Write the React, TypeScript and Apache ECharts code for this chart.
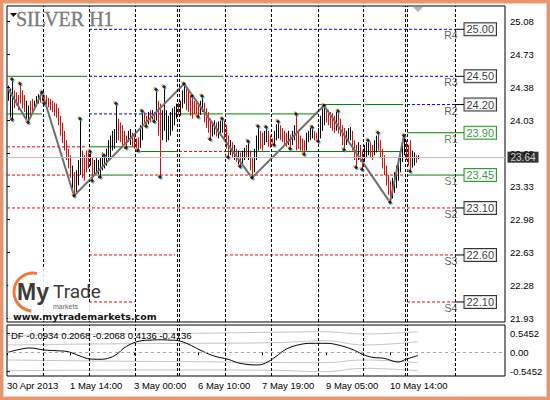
import React, { useEffect, useRef } from "react";
import * as echarts from "echarts";

// ---------- DATA ----------
const barHigh = [
  24.40, 24.37, 24.47, 24.35, 24.33, 24.30, 24.42, 24.35, 24.30, 24.24,
  24.19, 24.24, 24.26, 24.24, 24.29, 24.31, 24.33, 24.33, 24.30, 24.30,
  24.27, 24.26, 24.24, 24.22, 24.21, 24.16, 24.08, 24.01, 23.92, 23.82,
  23.73, 23.66, 23.55, 23.48, 23.50, 23.61, 24.05, 23.71, 23.66, 23.71,
  23.69, 23.70, 23.63, 23.61, 23.63, 23.61, 23.63, 23.69, 23.66, 23.73,
  23.82, 23.87, 23.92, 23.94, 24.21, 24.05, 24.01, 23.98, 23.92, 23.87,
  23.92, 23.94, 23.90, 23.87, 23.84, 23.85, 23.98, 24.13, 24.12, 24.08,
  24.12, 24.14, 24.14, 24.12, 24.36, 24.24, 24.21, 24.14, 24.39, 24.14,
  24.08, 24.12, 24.16, 24.18, 24.21, 24.22, 24.24, 24.35, 24.42, 24.37,
  24.35, 24.32, 24.29, 24.24, 24.22, 24.20, 24.24, 24.29, 24.22, 24.16,
  24.12, 24.05, 24.01, 24.03, 24.01, 24.02, 24.03, 24.05, 24.03, 23.98,
  23.87, 23.82, 23.80, 23.77, 23.73, 23.71, 23.69, 23.71, 23.74, 23.77,
  23.81, 23.71, 23.63, 23.73, 23.87, 23.97, 23.92, 23.90, 23.92, 23.96,
  23.92, 23.87, 23.84, 23.92, 23.99, 24.02, 23.98, 23.95, 23.92, 23.90,
  23.92, 23.88, 23.92, 23.98, 24.10, 23.92, 23.87, 23.84, 23.82, 23.90,
  23.92, 23.95, 23.96, 23.92, 23.90, 23.95, 24.08, 24.16, 24.19, 24.16,
  24.14, 24.12, 24.11, 24.08, 24.12, 24.13, 24.05, 23.98, 23.95, 23.92,
  23.95, 23.96, 23.92, 23.82, 23.77, 23.80, 23.77, 23.71, 23.77, 23.80,
  23.82, 23.80, 23.77, 23.82, 23.87, 23.90, 23.82, 23.73, 23.66, 23.55,
  23.45, 23.39, 23.42, 23.48, 23.55, 23.63, 23.71, 23.80, 23.87, 23.82,
  23.77, 23.82, 23.71, 23.69, 23.66, 23.66,
];
const barLow = [
  24.24, 24.05, 24.04, 24.16, 24.19, 24.14, 24.21, 24.16, 24.12, 24.05,
  24.01, 24.08, 24.10, 24.14, 24.18, 24.21, 24.22, 24.24, 24.21, 24.19,
  24.17, 24.14, 24.12, 24.08, 24.06, 23.98, 23.87, 23.79, 23.71, 23.61,
  23.52, 23.42, 23.31, 23.23, 23.27, 23.34, 23.45, 23.42, 23.39, 23.48,
  23.52, 23.55, 23.39, 23.44, 23.46, 23.42, 23.43, 23.50, 23.52, 23.55,
  23.61, 23.63, 23.71, 23.73, 23.79, 23.82, 23.80, 23.77, 23.73, 23.74,
  23.80, 23.77, 23.75, 23.73, 23.71, 23.71, 23.74, 23.82, 23.98, 23.97,
  23.99, 24.01, 24.03, 24.02, 24.03, 23.87, 23.43, 23.82, 23.92, 23.80,
  23.82, 23.87, 23.92, 23.98, 24.05, 24.09, 24.08, 24.16, 24.21, 24.14,
  24.12, 24.08, 24.05, 24.10, 24.08, 24.07, 24.09, 24.12, 24.01, 23.95,
  23.90, 23.83, 23.86, 23.88, 23.86, 23.84, 23.87, 23.90, 23.82, 23.73,
  23.64, 23.66, 23.63, 23.61, 23.59, 23.55, 23.54, 23.57, 23.61, 23.63,
  23.61, 23.50, 23.42, 23.48, 23.61, 23.71, 23.73, 23.71, 23.77, 23.80,
  23.75, 23.74, 23.77, 23.77, 23.82, 23.84, 23.82, 23.80, 23.78, 23.75,
  23.77, 23.73, 23.77, 23.82, 23.71, 23.73, 23.71, 23.69, 23.67, 23.71,
  23.80, 23.82, 23.84, 23.82, 23.81, 23.81, 23.84, 23.92, 23.98, 24.01,
  23.98, 23.95, 23.92, 23.90, 23.92, 23.89, 23.86, 23.77, 23.72, 23.77,
  23.80, 23.82, 23.71, 23.61, 23.53, 23.61, 23.59, 23.51, 23.59, 23.63,
  23.66, 23.63, 23.61, 23.66, 23.69, 23.71, 23.63, 23.52, 23.45, 23.34,
  23.24, 23.16, 23.20, 23.26, 23.31, 23.39, 23.48, 23.59, 23.66, 23.61,
  23.55, 23.49, 23.53, 23.55, 23.58, 23.62,
];
// 1 = up bar (black), 0 = down bar (red)
const barUp = [
  1, 1, 1, 0, 0, 0, 0, 0, 0, 1,
  1, 0, 0, 1, 1, 1, 0, 1, 0, 0,
  0, 0, 0, 0, 0, 0, 0, 0, 0, 0,
  0, 0, 1, 0, 1, 1, 1, 0, 0, 0,
  0, 1, 0, 1, 1, 1, 1, 1, 1, 1,
  1, 1, 1, 1, 1, 0, 0, 0, 0, 0,
  1, 1, 0, 0, 0, 0, 1, 1, 0, 0,
  1, 0, 1, 0, 1, 0, 0, 1, 1, 1,
  1, 1, 1, 1, 1, 0, 1, 1, 1, 0,
  0, 0, 0, 0, 0, 0, 1, 1, 0, 0,
  0, 0, 1, 1, 0, 1, 1, 1, 0, 0,
  0, 1, 0, 1, 0, 1, 0, 1, 1, 0,
  1, 0, 0, 1, 1, 1, 0, 0, 1, 1,
  0, 0, 0, 1, 1, 1, 0, 0, 0, 0,
  1, 0, 1, 1, 0, 0, 0, 0, 0, 1,
  1, 1, 1, 0, 0, 1, 1, 1, 1, 0,
  0, 0, 0, 0, 1, 0, 0, 0, 0, 1,
  1, 1, 0, 0, 0, 1, 0, 0, 1, 1,
  1, 0, 0, 1, 1, 0, 0, 0, 0, 0,
  0, 0, 1, 1, 1, 1, 1, 1, 1, 0,
  0, 0, 1, 1, 0, 1,
];

const zigzagBars = [0, 10, 17, 33, 88, 122, 158, 191, 198];
const zigzagPrices = [24.37, 24.01, 24.33, 23.23, 24.42, 23.42, 24.19, 23.16, 23.87];

const fractalHighBars = [2, 6, 17, 36, 41, 48, 54, 67, 74, 78, 88, 92, 97, 107, 120, 125, 129, 135, 144, 152, 158, 165, 180, 185, 198];
const fractalLowBars = [2, 10, 18, 33, 42, 46, 59, 65, 69, 73, 76, 95, 101, 110, 116, 122, 133, 141, 148, 155, 168, 174, 177, 191, 201];

const sessionBreaks = [17.5, 40.5, 63.5, 84.5, 85.5, 108.5, 131.5, 155, 177.5, 198.5, 199.5, 223.5];

const pivotNames = ["R4", "R3", "R2", "R1", "S1", "S2", "S3", "S4"];
const pivotValues = [25.0, 24.5, 24.2, 23.9, 23.45, 23.1, 22.6, 22.1];
const pivotGreen = ["R1", "S1"];

// [price, fromBar, toBar]
const greenLevels: [number, number, number][] = [
  [24.5, -0.5, 17], [24.5, 18.5, 39.5], [24.5, 86, 107.5],
  [24.1, -0.5, 17], [24.1, 86, 107.5], [24.1, 108.5, 131], [24.1, 132, 155],
  [24.2, 155, 176.5], [24.2, 178.5, 197.5],
  [23.75, 40.5, 63], [23.7, 63.5, 84.5], [23.7, 108.5, 131], [23.7, 132, 176.5], [23.7, 178.5, 197.5],
  [23.9, 199.5, 223.5],
  [23.45, 40.5, 62.5], [23.45, 199.5, 223.5],
];
const blueLevels: [number, number, number][] = [
  [25.0, 40.5, 223.5],
  [24.5, 40.5, 84.5], [24.5, 108.5, 223.5],
  [24.1, 40.5, 84.5],
  [24.2, 199.5, 223.5],
];
const redLevels: [number, number, number][] = [
  [23.75, -0.5, 39.5], [23.7, 85.5, 108.5],
  [23.45, -0.5, 39.5], [23.45, 63.5, 198.5],
  [23.1, -0.5, 223.5],
  [22.6, 40.5, 83.5], [22.6, 108.5, 223.5],
  [22.1, 40.5, 63.5], [22.1, 199.5, 223.5],
];

const currentPrice = 23.64;

const priceTickLabels = ["21.93", "22.28", "22.63", "22.98", "23.33", "23.68", "24.03", "24.38", "24.73", "25.08"];
const dfTickLabels = ["-0.5452", "0.00", "0.5452"];
const dateTickBars = [-0.5, 31, 63, 95, 127, 159, 191];
const dateTickLabels = ["30 Apr 2013", "1 May 14:00", "3 May 00:00", "6 May 10:00", "7 May 19:00", "9 May 05:00", "10 May 14:00"];

const dfBars = [0, 6, 11, 18, 24, 30, 36, 41, 46, 51, 55, 58, 63, 67, 71, 76, 81, 85, 90, 96, 103, 110, 116, 125, 130, 134, 139, 145, 152, 159, 165, 172, 177, 182, 188, 195, 199, 205];
const dfValues = [0.0, 0.086, 0.123, 0.066, 0.046, 0.017, -0.106, -0.192, -0.2, -0.155, -0.029, 0.123, 0.276, 0.333, 0.35, 0.36, 0.35, 0.333, 0.238, 0.066, -0.106, -0.2, -0.316, -0.364, -0.27, -0.12, 0.086, 0.21, 0.258, 0.258, 0.21, 0.086, -0.049, -0.144, -0.172, -0.278, -0.2, -0.093];
const dfLabelValues = ["-0.0934", "0.2068", "-0.2068", "0.4136", "-0.4136"];

const bandBars = [0, 45, 93, 134, 158, 178, 205];
const bandUpper2 = [0.48, 0.52, 0.545, 0.577, 0.59, 0.525, 0.59];
const bandUpper1 = [0.21, 0.24, 0.258, 0.276, 0.333, 0.21, 0.304];
const bandLower1 = [-0.22, -0.25, -0.27, -0.293, -0.298, -0.22, -0.298];
const bandLower2 = [-0.528, -0.51, -0.507, -0.517, -0.557, -0.46, -0.528];

// ---------- CHART ----------
const FONT = '"Liberation Sans", Arial, sans-serif';

export default function App() {
  const ref = useRef<HTMLDivElement>(null);

  useEffect(() => {
    if (!ref.current) return;
    const chart = echarts.init(ref.current, null, { renderer: "svg" });

    const levelSeries = (levels: [number, number, number][], color: string, dashed: boolean) =>
      levels.map(([p, a, b]) => ({
        type: "line",
        xAxisIndex: 0,
        yAxisIndex: 0,
        data: [[a, p], [b, p]],
        symbol: "none",
        silent: true,
        lineStyle: { color, width: 1, type: dashed ? [3, 2] : "solid" },
        z: 1,
      }));

    const connectorSeries = pivotValues.map((v, i) => ({
      type: "line",
      xAxisIndex: 0,
      yAxisIndex: 0,
      data: [[223.5, v], [228, v]],
      symbol: "none",
      silent: true,
      lineStyle: { color: pivotGreen.includes(pivotNames[i]) ? "#008000" : "#000", width: 1 },
      z: 2,
    }));

    const bandSeries = [bandUpper2, bandUpper1, bandLower1, bandLower2].map((arr, i) => ({
      type: "line",
      xAxisIndex: 1,
      yAxisIndex: 1,
      data: bandBars.map((b, j) => [b, arr[j]]),
      smooth: 0.4,
      symbol: "none",
      silent: true,
      lineStyle: { color: "#c4c4c4", width: 1 },
      z: 2,
      markLine:
        i === 0
          ? {
              silent: true,
              symbol: ["none", "none"],
              label: { show: false },
              lineStyle: { color: "#a8a8a8", type: [3, 3], width: 1 },
              data: [{ yAxis: 0 }],
            }
          : undefined,
    }));

    const fractalPoints = [
      ...fractalHighBars.map((b) => [b, barHigh[b]]),
      ...fractalLowBars.map((b) => [b, barLow[b]]),
    ];

    const option: any = {
      animation: false,
      backgroundColor: "#ffffff",
      textStyle: { fontFamily: FONT },
      grid: [
        { left: 7, top: 6, width: 498, height: 316, show: true, borderColor: "#000", borderWidth: 1, backgroundColor: "#fff" },
        { left: 7, top: 325, width: 498, height: 51, show: true, borderColor: "#000", borderWidth: 1, backgroundColor: "#fff" },
        { left: 7, top: 21, width: 498, height: 297, show: false },
        { left: 7, top: 333, width: 498, height: 38, show: false },
      ],
      xAxis: [
        { gridIndex: 0, type: "value", min: -0.5, max: 248.5, show: false },
        {
          gridIndex: 1,
          type: "value",
          min: -0.5,
          max: 248.5,
          splitLine: { show: false },
          axisLine: { show: false },
          axisTick: { show: true, customValues: dateTickBars, length: 3, lineStyle: { color: "#000" } },
          axisLabel: {
            customValues: dateTickBars,
            formatter: (v: number) => dateTickLabels[dateTickBars.indexOf(v)] ?? "",
            align: "left",
            fontSize: 9.5,
            color: "#000",
            margin: 4,
            fontFamily: FONT,
          },
        },
        { gridIndex: 2, type: "value", show: false },
        { gridIndex: 3, type: "value", show: false },
      ],
      yAxis: [
        { gridIndex: 0, type: "value", min: 21.887, max: 25.248, show: false },
        { gridIndex: 1, type: "value", min: -0.68, max: 0.783, show: false },
        {
          gridIndex: 2,
          type: "category",
          data: priceTickLabels,
          boundaryGap: false,
          position: "right",
          axisLine: { show: false },
          splitLine: { show: false },
          axisTick: { show: true, length: 3, lineStyle: { color: "#000" } },
          axisLabel: { interval: 0, fontSize: 9.5, color: "#000", margin: 5, fontFamily: FONT },
        },
        {
          gridIndex: 3,
          type: "category",
          data: dfTickLabels,
          boundaryGap: false,
          position: "right",
          axisLine: { show: false },
          splitLine: { show: false },
          axisTick: { show: true, length: 3, lineStyle: { color: "#000" } },
          axisLabel: { interval: 0, fontSize: 9.5, color: "#000", margin: 5, fontFamily: FONT },
        },
      ],
      series: [
        ...levelSeries(blueLevels, "#0000ff", true),
        ...levelSeries(redLevels, "#ff0000", true),
        ...levelSeries(greenLevels, "#008000", false),
        ...connectorSeries,
        {
          type: "custom",
          xAxisIndex: 0,
          yAxisIndex: 0,
          data: barHigh.map((h, i) => [i, h, barLow[i], barUp[i]]),
          encode: { x: 0, y: [1, 2] },
          silent: true,
          z: 3,
          renderItem: (_p: any, api: any) => {
            const x = api.value(0);
            const hi = api.value(1);
            const lo = api.value(2);
            const up = api.value(3);
            const a = api.coord([x, hi]);
            const b = api.coord([x, lo]);
            const px = Math.round(a[0]) + 0.5;
            return {
              type: "line",
              shape: { x1: px, y1: a[1], x2: px, y2: b[1] },
              style: { stroke: up ? "#000000" : "#ff0000", lineWidth: 1 },
            };
          },
          markLine: {
            silent: true,
            symbol: ["none", "none"],
            label: { show: false },
            lineStyle: { color: "#000", type: [3, 2], width: 1 },
            data: sessionBreaks.map((b) => ({ xAxis: b })),
          },
        },
        {
          type: "line",
          xAxisIndex: 0,
          yAxisIndex: 0,
          data: zigzagBars.map((b, i) => [b, zigzagPrices[i]]),
          symbol: "none",
          silent: true,
          lineStyle: { color: "#6e6e6e", width: 2 },
          z: 4,
        },
        {
          type: "scatter",
          xAxisIndex: 0,
          yAxisIndex: 0,
          silent: true,
          symbol: "circle",
          symbolSize: 3,
          symbolOffset: [-1.2, -1.2],
          itemStyle: { color: "#f5a53a" },
          data: fractalPoints,
          z: 5,
        },
        {
          type: "scatter",
          xAxisIndex: 0,
          yAxisIndex: 0,
          silent: true,
          symbol: "circle",
          symbolSize: 3,
          symbolOffset: [1.2, 1.2],
          itemStyle: { color: "#4aa3e0" },
          data: fractalPoints,
          z: 5,
        },
        {
          type: "scatter",
          xAxisIndex: 0,
          yAxisIndex: 0,
          silent: true,
          symbol: "diamond",
          symbolSize: 4,
          itemStyle: { color: "#000" },
          data: fractalPoints,
          z: 6,
        },
        {
          type: "scatter",
          xAxisIndex: 0,
          yAxisIndex: 0,
          silent: true,
          symbolSize: 1,
          itemStyle: { color: "transparent" },
          data: [[248.5, currentPrice]],
          label: {
            show: true,
            position: "right",
            distance: 2,
            formatter: () => currentPrice.toFixed(2),
            backgroundColor: "#000",
            color: "#fff",
            fontSize: 10,
            padding: [1, 3, 0, 3],
            fontFamily: FONT,
          },
          markLine: {
            silent: true,
            symbol: ["none", "none"],
            label: { show: false },
            lineStyle: { color: "#c0c0c0", type: "solid", width: 1 },
            data: [{ yAxis: currentPrice }],
          },
          z: 10,
        },
        {
          type: "scatter",
          xAxisIndex: 0,
          yAxisIndex: 0,
          silent: true,
          symbolSize: 1,
          itemStyle: { color: "transparent" },
          data: pivotValues.map((v, i) => {
            const g = pivotGreen.includes(pivotNames[i]);
            return {
              value: [228, v],
              label: { color: g ? "#008000" : "#000", borderColor: g ? "#008000" : "#000" },
            };
          }),
          label: {
            show: true,
            position: "right",
            distance: 0,
            formatter: (p: any) => p.value[1].toFixed(2),
            backgroundColor: "#fff",
            borderWidth: 1,
            padding: [1, 2, 0, 2],
            fontSize: 11,
            fontFamily: FONT,
          },
          z: 8,
        },
        {
          type: "scatter",
          xAxisIndex: 0,
          yAxisIndex: 0,
          silent: true,
          symbolSize: 1,
          itemStyle: { color: "transparent" },
          data: pivotValues.map((v, i) => {
            const g = pivotGreen.includes(pivotNames[i]);
            return { value: [221.5, v], name: pivotNames[i], label: { color: g ? "#2f6f2f" : "#333" } };
          }),
          label: {
            show: true,
            position: "bottom",
            distance: 0,
            formatter: (p: any) => p.name,
            fontSize: 10.5,
            fontFamily: FONT,
          },
          z: 8,
        },
        ...bandSeries,
        {
          type: "line",
          xAxisIndex: 1,
          yAxisIndex: 1,
          data: dfBars.map((b, i) => [b, dfValues[i]]),
          smooth: 0.4,
          symbol: "none",
          silent: true,
          lineStyle: { color: "#000", width: 1 },
          z: 4,
          markLine: {
            silent: true,
            symbol: ["none", "none"],
            label: { show: false },
            lineStyle: { color: "#000", type: [3, 2], width: 1 },
            data: sessionBreaks.map((b) => ({ xAxis: b })),
          },
        },
      ],
      graphic: [
        // window frame
        { type: "rect", shape: { x: 1.5, y: 1.5, width: 547, height: 397 }, style: { fill: null, stroke: "#e8946c", lineWidth: 3 }, z: 200, silent: true },
        { type: "rect", shape: { x: 3.5, y: 3.5, width: 543, height: 393 }, style: { fill: null, stroke: "#f6cdb8", lineWidth: 1 }, z: 200, silent: true },
        // title
        { type: "polygon", shape: { points: [[10, 13], [17, 13], [13.5, 17]] }, style: { fill: "#000" }, z: 100, silent: true },
        { type: "text", x: 16, y: 9, style: { text: "SILVER H1", font: '20px "Liberation Serif", serif', fill: "#7c7c7c", stroke: "#5a5a5a", lineWidth: 0.3 }, z: 100, silent: true },
        { type: "polygon", shape: { points: [[413, 7], [423, 7], [418, 12]] }, style: { fill: "#b4b4b4" }, z: 100, silent: true },
        // DF label
        { type: "text", x: 11, y: 330, style: { text: "DF " + dfLabelValues.join(" "), font: '9.5px "Liberation Sans", Arial, sans-serif', fill: "#000" }, z: 100, silent: true },
        // logo overlay
        { type: "rect", shape: { x: 8, y: 268, width: 80, height: 53 }, style: { fill: "rgba(255,255,255,0.88)" }, z: 90, silent: true },
        { type: "rect", shape: { x: 88, y: 303, width: 46, height: 18 }, style: { fill: "rgba(255,255,255,0.85)" }, z: 90, silent: true },
        { type: "arc", shape: { cx: 33, cy: 292, r: 19, startAngle: (95 * Math.PI) / 180, endAngle: (282 * Math.PI) / 180, clockwise: true }, style: { stroke: "#f07a3a", lineWidth: 3, fill: null }, z: 95, silent: true },
        { type: "text", x: 17, y: 280, style: { text: "My", font: 'bold 23px "Liberation Sans", Arial, sans-serif', fill: "#3a3a3a" }, z: 96, silent: true },
        { type: "text", x: 53, y: 282, style: { text: "Trade", font: "19px Roboto, sans-serif", fill: "#3a3a3a" }, z: 96, silent: true },
        { type: "text", x: 53, y: 302.5, style: { text: "markets", font: '7px "Liberation Sans", Arial, sans-serif', fill: "#666" }, z: 96, silent: true },
        { type: "text", x: 13, y: 311, style: { text: "www.mytrademarkets.com", font: 'bold 9.5px "DejaVu Sans", sans-serif', fill: "#111" }, z: 96, silent: true },
      ],
    };

    chart.setOption(option);
    return () => chart.dispose();
  }, []);

  return (
    <div
      ref={ref}
      style={{ position: "fixed", left: 0, top: 0, width: 550, height: 400, background: "#fff" }}
    />
  );
}
